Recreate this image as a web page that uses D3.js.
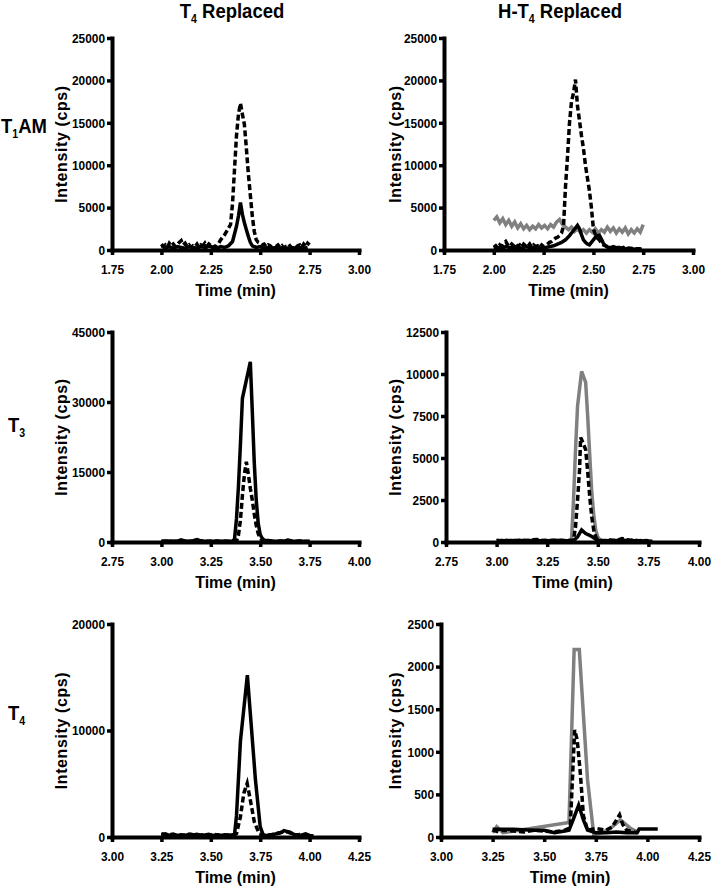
<!DOCTYPE html>
<html><head><meta charset="utf-8">
<script src="https://cdn.jsdelivr.net/npm/d3@7"></script>
<style>
html,body{margin:0;padding:0;background:#fff;}
svg{display:block;}
</style></head>
<body>
<svg id="chart" width="714" height="888"></svg>
<script>
// ---------------- DATA ----------------
const colTitles = ["T4 Replaced", "H-T4 Replaced"];
const rowLabels = ["T1AM", "T3", "T4"];

// Tick labels
const xTicksT1AM = [1.75, 2.00, 2.25, 2.50, 2.75, 3.00];
const xTicksT3 = [2.75, 3.00, 3.25, 3.50, 3.75, 4.00];
const xTicksT4 = [3.00, 3.25, 3.50, 3.75, 4.00, 4.25];
const yTicksT1AM = [0, 5000, 10000, 15000, 20000, 25000];
const yTicksT3left = [0, 15000, 30000, 45000];
const yTicksT3right = [0, 2500, 5000, 7500, 10000, 12500];
const yTicksT4left = [0, 10000, 20000];
const yTicksT4right = [0, 500, 1000, 1500, 2000, 2500];

// Panel 1: T1AM, T4 Replaced
const p1DashTime = [2.00,2.01,2.02,2.03,2.04,2.05,2.06,2.07,2.08,2.09,2.10,2.11,2.12,2.13,2.14,2.15,2.16,2.17,2.18,2.19,2.20,2.21,2.22,2.23,2.24,2.25,2.26,2.27,2.28,2.29,2.30,2.31,2.32,2.33,2.34,2.35,2.36,2.37,2.38,2.39,2.40,2.41,2.42,2.43,2.44,2.45,2.46,2.47,2.48,2.49,2.50,2.51,2.52,2.53,2.54,2.55,2.56,2.57,2.58,2.59,2.60,2.61,2.62,2.63,2.64,2.65,2.66,2.67,2.68,2.69,2.70,2.71,2.72,2.73,2.74,2.75];
const p1DashVal = [700,400,600,300,800,500,700,400,600,900,1100,600,800,400,600,300,500,400,700,300,600,500,800,400,700,500,600,300,600,800,1200,1500,1800,2200,2600,3000,5500,9500,13500,16000,17300,16000,14800,12000,9000,6500,4000,2200,1200,900,800,600,700,400,600,500,300,500,400,600,300,500,200,400,300,500,200,400,300,500,600,300,700,400,800,600];
const p1SolidTime = [2.00,2.02,2.04,2.06,2.08,2.10,2.12,2.14,2.16,2.18,2.20,2.22,2.24,2.26,2.28,2.30,2.32,2.34,2.36,2.38,2.39,2.40,2.41,2.42,2.43,2.44,2.45,2.46,2.48,2.50,2.52,2.54,2.56,2.58,2.60,2.62,2.64,2.66,2.68,2.70,2.72,2.74];
const p1SolidVal = [500,300,400,200,400,300,200,400,300,200,400,300,500,300,200,400,300,500,1000,2800,4000,5600,4200,3200,2400,1600,900,500,300,400,200,300,200,300,200,300,200,300,200,300,200,300];

// Panel 2: T1AM, H-T4 Replaced
const p2DashTime = [2.00,2.01,2.02,2.03,2.04,2.05,2.06,2.07,2.08,2.09,2.10,2.11,2.12,2.13,2.14,2.15,2.16,2.17,2.18,2.19,2.20,2.21,2.22,2.23,2.24,2.25,2.26,2.27,2.28,2.29,2.30,2.31,2.32,2.33,2.34,2.35,2.36,2.37,2.38,2.39,2.40,2.41,2.42,2.43,2.44,2.45,2.46,2.47,2.48,2.49,2.50,2.51,2.52,2.53,2.54,2.55,2.56,2.57,2.58,2.59,2.60,2.61,2.62,2.63,2.64,2.65,2.66,2.67,2.68,2.69,2.70,2.71,2.72,2.73,2.74,2.75];
const p2DashVal = [300,500,200,600,400,800,1000,600,400,700,500,800,400,600,300,700,500,400,700,300,600,400,500,300,600,400,500,700,900,1000,1200,1400,1500,1700,2000,2800,7500,11000,15000,17500,18500,20100,17000,15300,13500,12000,10000,8500,7000,5000,2500,1800,1400,1200,800,600,500,400,500,300,400,300,200,300,200,300,200,250,150,200,150,200,100,150,100,100];
const p2SolidTime = [2.00,2.02,2.04,2.06,2.08,2.10,2.12,2.14,2.16,2.18,2.20,2.22,2.24,2.26,2.28,2.30,2.32,2.34,2.36,2.38,2.40,2.42,2.43,2.44,2.45,2.46,2.47,2.48,2.49,2.50,2.51,2.52,2.53,2.54,2.55,2.56,2.57,2.58,2.60,2.62,2.64,2.66,2.68,2.70,2.72,2.74];
const p2SolidVal = [200,300,200,400,300,200,300,200,400,300,200,300,200,300,400,500,700,900,1200,1700,2300,2900,2500,1800,1200,900,700,600,900,1200,1500,1700,1750,1300,800,500,350,300,200,300,200,150,200,100,150,100];
const p2GrayTime = [2.000,2.015,2.030,2.045,2.060,2.075,2.090,2.105,2.120,2.135,2.150,2.165,2.180,2.195,2.210,2.225,2.240,2.255,2.270,2.285,2.300,2.315,2.330,2.345,2.360,2.375,2.390,2.405,2.420,2.435,2.450,2.465,2.480,2.495,2.510,2.525,2.540,2.555,2.570,2.585,2.600,2.615,2.630,2.645,2.660,2.675,2.690,2.705,2.720,2.735,2.750];
const p2GrayVal = [3500,3900,3200,3700,3000,3500,2800,3300,2600,3100,2500,2900,2400,2800,2500,3000,2600,2900,2500,3000,2700,3300,3600,3000,2700,2400,2700,2200,2500,2100,2400,2000,2400,2100,2500,2000,2400,2100,2700,2200,2600,2000,2500,2100,2600,1900,2400,2000,2500,2100,3000];

// Panel 3: T3, T4 Replaced
const p3SolidTime = [3.00,3.02,3.04,3.06,3.08,3.10,3.12,3.14,3.16,3.18,3.20,3.22,3.24,3.26,3.28,3.30,3.32,3.34,3.36,3.37,3.38,3.39,3.40,3.41,3.45,3.46,3.47,3.48,3.49,3.50,3.51,3.52,3.54,3.56,3.58,3.60,3.62,3.64,3.66,3.68,3.70,3.72,3.75];
const p3SolidVal = [200,150,200,150,200,450,200,150,300,500,250,150,200,150,200,150,200,150,200,600,5000,12000,21000,30800,38600,28000,17000,9000,4000,1600,800,400,300,200,150,200,150,400,200,150,200,150,150];
const p3DashTime = [3.00,3.03,3.06,3.09,3.12,3.15,3.18,3.21,3.24,3.27,3.30,3.33,3.36,3.38,3.39,3.40,3.41,3.42,3.43,3.44,3.45,3.46,3.47,3.48,3.49,3.50,3.51,3.52,3.55,3.58,3.61,3.64,3.67,3.70,3.73,3.75];
const p3DashVal = [100,200,100,150,250,100,300,150,100,200,100,150,100,200,1500,4700,10000,14500,17200,14500,11500,9000,6000,3500,1800,800,300,150,200,100,200,300,100,200,100,100];

// Panel 4: T3, H-T4 Replaced
const p4GrayTime = [3.00,3.05,3.10,3.15,3.20,3.25,3.30,3.36,3.37,3.38,3.39,3.40,3.42,3.44,3.45,3.46,3.47,3.48,3.49,3.50,3.51,3.52,3.56,3.60,3.65,3.70,3.75];
const p4GrayVal = [80,90,80,100,90,80,90,80,100,2500,5500,8100,10150,9500,7500,5200,3000,1600,700,300,150,100,90,80,100,80,80];
const p4DashTime = [3.00,3.02,3.04,3.06,3.08,3.10,3.12,3.14,3.16,3.18,3.20,3.22,3.24,3.26,3.28,3.30,3.32,3.34,3.36,3.38,3.39,3.40,3.41,3.415,3.42,3.44,3.45,3.46,3.47,3.48,3.49,3.50,3.53,3.56,3.59,3.62,3.64,3.66,3.68,3.70,3.72,3.75];
const p4DashVal = [100,80,120,80,100,70,110,90,100,130,150,90,100,80,110,90,100,80,100,100,920,2500,4320,6220,6100,5500,4200,2720,1500,700,300,100,80,120,90,200,150,100,120,80,100,80];
const p4SolidTime = [3.00,3.05,3.10,3.15,3.20,3.25,3.30,3.35,3.38,3.40,3.42,3.44,3.46,3.48,3.50,3.55,3.60,3.62,3.66,3.70,3.74,3.77];
const p4SolidVal = [80,70,90,80,70,80,90,80,80,300,720,500,400,250,80,70,90,100,80,70,60,50];

// Panel 5: T4, T4 Replaced
const p5SolidTime = [3.25,3.27,3.29,3.31,3.33,3.35,3.37,3.39,3.41,3.43,3.45,3.47,3.49,3.51,3.53,3.55,3.57,3.59,3.61,3.62,3.63,3.64,3.65,3.685,3.70,3.726,3.75,3.765,3.78,3.80,3.82,3.84,3.86,3.87,3.88,3.90,3.92,3.94,3.96,3.98,4.00,4.02];
const p5SolidVal = [200,300,150,250,150,200,150,250,200,250,150,200,250,150,200,150,200,150,200,200,2000,5500,9000,15200,11600,5350,970,200,150,200,250,350,450,600,550,450,250,150,200,300,150,100];
const p5DashTime = [3.25,3.28,3.31,3.34,3.37,3.40,3.43,3.46,3.49,3.52,3.55,3.58,3.61,3.63,3.65,3.667,3.684,3.70,3.72,3.745,3.77,3.80,3.83,3.86,3.88,3.90,3.93,3.96,3.98,4.00];
const p5DashVal = [300,200,250,150,200,250,150,200,150,250,150,200,150,300,1900,4100,5040,3470,1440,300,150,200,300,450,500,400,200,250,150,100];

// Panel 6: T4, H-T4 Replaced
const p6GrayTime = [3.25,3.27,3.30,3.62,3.645,3.67,3.71,3.74,3.78,3.82,3.87,3.92,3.96];
const p6GrayVal = [50,120,50,170,2200,2200,670,30,50,100,200,100,50];
const p6DashTime = [3.25,3.28,3.30,3.35,3.40,3.45,3.50,3.55,3.60,3.62,3.627,3.6475,3.66,3.675,3.69,3.71,3.75,3.80,3.83,3.865,3.88,3.90,3.95];
const p6DashVal = [80,60,80,70,60,80,70,60,80,100,150,1256,1140,750,250,80,100,80,120,260,150,80,50];
const p6SolidTime = [3.25,3.30,3.35,3.40,3.45,3.50,3.55,3.60,3.62,3.64,3.667,3.69,3.71,3.75,3.80,3.85,3.90,3.95,3.96,4.05];
const p6SolidVal = [90,90,90,85,80,80,50,70,80,200,375,200,80,50,50,60,50,50,95,95];

// ---------------- LAYOUT ----------------
const GRAY = "#808080";
const FONT = "'Liberation Sans',Arial,Helvetica,sans-serif";
const SQUEEZE = 0.88;

const panels = [
  {x0:112,x1:359,y0:250,y1:38, xd:[1.75,3.00], yd:[0,25000], xt:xTicksT1AM, yt:yTicksT1AM, labX:67,
   series:[{t:p1DashTime,v:p1DashVal,s:"dash"},{t:p1SolidTime,v:p1SolidVal,s:"solid"}]},
  {x0:444,x1:693,y0:250,y1:38, xd:[1.75,3.00], yd:[0,25000], xt:xTicksT1AM, yt:yTicksT1AM, labX:401,
   series:[{t:p2GrayTime,v:p2GrayVal,s:"gray"},{t:p2DashTime,v:p2DashVal,s:"dash"},{t:p2SolidTime,v:p2SolidVal,s:"solid"}]},
  {x0:112,x1:359,y0:542,y1:332, xd:[2.75,4.00], yd:[0,45000], xt:xTicksT3, yt:yTicksT3left, labX:67,
   series:[{t:p3DashTime,v:p3DashVal,s:"dash"},{t:p3SolidTime,v:p3SolidVal,s:"solid"}]},
  {x0:446,x1:699,y0:542,y1:332, xd:[2.75,4.00], yd:[0,12500], xt:xTicksT3, yt:yTicksT3right, labX:401,
   series:[{t:p4GrayTime,v:p4GrayVal,s:"gray"},{t:p4DashTime,v:p4DashVal,s:"dash"},{t:p4SolidTime,v:p4SolidVal,s:"solid"}]},
  {x0:112,x1:359,y0:837,y1:624, xd:[3.00,4.25], yd:[0,20000], xt:xTicksT4, yt:yTicksT4left, labX:67,
   series:[{t:p5DashTime,v:p5DashVal,s:"dash"},{t:p5SolidTime,v:p5SolidVal,s:"solid"}]},
  {x0:441,x1:699,y0:837,y1:624, xd:[3.00,4.25], yd:[0,2500], xt:xTicksT4, yt:yTicksT4right, labX:401,
   series:[{t:p6GrayTime,v:p6GrayVal,s:"gray"},{t:p6DashTime,v:p6DashVal,s:"dash"},{t:p6SolidTime,v:p6SolidVal,s:"solid"}]}
];

const svg = d3.select("#chart");

panels.forEach(p => {
  const x = d3.scaleLinear().domain(p.xd).range([p.x0, p.x1]);
  const y = d3.scaleLinear().domain(p.yd).range([p.y0, p.y1]);
  const g = svg.append("g");

  const line = d3.line().x(d => x(d[0])).y(d => y(d[1]));
  p.series.forEach(s => {
    const pts = s.t.map((t, i) => [t, s.v[i]]);
    g.append("path").datum(pts)
      .attr("d", line)
      .attr("fill", "none")
      .attr("stroke", s.s === "gray" ? GRAY : "#000")
      .attr("stroke-width", 3.5)
      .attr("stroke-linejoin", "miter")
      .attr("stroke-dasharray", s.s === "dash" ? "6,3" : null);
  });

  const xa = d3.axisBottom(x).tickValues(p.xt).tickFormat(d3.format(".2f")).tickSizeInner(5).tickSizeOuter(0).tickPadding(9);
  const ya = d3.axisLeft(y).tickValues(p.yt).tickFormat(d3.format("d")).tickSizeInner(5).tickSizeOuter(0).tickPadding(2);
  const gx = g.append("g").attr("transform", `translate(0,${p.y0})`).call(xa);
  const gy = g.append("g").attr("transform", `translate(${p.x0},0)`).call(ya);
  [gx, gy].forEach(a => {
    a.select(".domain").attr("stroke", "#000").attr("stroke-width", 4).attr("stroke-linecap", "square");
    a.selectAll(".tick line").attr("stroke", "#000").attr("stroke-width", 3.5);
    a.selectAll(".tick text").attr("fill", "#000")
      .attr("transform", `scale(${SQUEEZE},1)`)
      .style("font-family", FONT).style("font-weight", "bold").style("font-size", "13.5px");
  });
  gy.selectAll(".tick text").attr("x", -7 / SQUEEZE);

  g.append("text")
    .attr("x", (p.x0 + p.x1) / 2).attr("y", p.y0 + 46)
    .attr("text-anchor", "middle")
    .style("font-family", FONT).style("font-weight", "bold").style("font-size", "16px")
    .text("Time (min)");
  g.append("text")
    .attr("transform", `translate(${p.labX},${(p.y0 + p.y1) / 2}) rotate(-90)`)
    .attr("text-anchor", "middle")
    .style("font-family", FONT).style("font-weight", "bold").style("font-size", "16px")
    .style("letter-spacing", "0.6px")
    .text("Intensity (cps)");
});

// titles and row labels (condensed, with subscripts)
function label(x, y, anchor, parts) {
  const t = svg.append("g").attr("transform", `translate(${x},${y}) scale(${SQUEEZE},1)`)
    .append("text").attr("text-anchor", anchor)
    .style("font-family", FONT).style("font-weight", "bold").style("font-size", "21px");
  parts.forEach(pt => {
    const ts = t.append("tspan").text(pt.t);
    if (pt.sub) ts.attr("dy", 5).style("font-size", "12px");
    if (pt.after) ts.attr("dy", -5);
  });
}
label(232, 18, "middle", [{t:"T"},{t:"4",sub:true},{t:" Replaced",after:true}]);
label(560, 18, "middle", [{t:"H-T"},{t:"4",sub:true},{t:" Replaced",after:true}]);
label(1, 133, "start", [{t:"T"},{t:"1",sub:true},{t:"AM",after:true}]);
label(8, 432, "start", [{t:"T"},{t:"3",sub:true}]);
label(8, 720, "start", [{t:"T"},{t:"4",sub:true}]);
</script>
</body></html>
